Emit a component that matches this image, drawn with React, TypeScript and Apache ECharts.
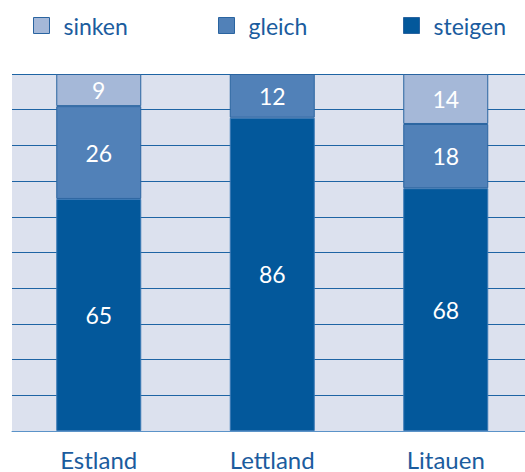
import React, { useEffect, useRef } from "react";
import * as echarts from "echarts";

const categories = ["Estland", "Lettland", "Litauen"];
const steigen = [65, 86, 68];
const gleich = [26, 12, 18];
const sinken: (number | null)[] = [9, null, 14];

const seriesNames = ["sinken", "gleich", "steigen"];
const colors: Record<string, string> = {
  sinken: "#a5b8d8",
  gleich: "#5181b8",
  steigen: "#03589b",
};

const totals = categories.map(
  (_, i) => (steigen[i] || 0) + (gleich[i] || 0) + (sinken[i] || 0)
);

const norm = (arr: (number | null)[]) =>
  arr.map((v, i) => (v == null ? null : { value: (v / totals[i]) * 100, raw: v }));

const textColor = "#1b5c9e";
const font = "Lato, 'Open Sans', sans-serif";

export default function App() {
  const ref = useRef<HTMLDivElement>(null);
  useEffect(() => {
    if (!ref.current) return;
    const chart = echarts.init(ref.current, null, { renderer: "svg" });
    const dataMap: Record<string, (number | null)[]> = { steigen, gleich, sinken };
    const order = ["steigen", "gleich", "sinken"];
    const legendLeft = [33, 218, 403];
    chart.setOption({
      animation: false,
      legend: seriesNames.map((n, i) => ({
        data: [n],
        left: legendLeft[i],
        top: 14,
        padding: 0,
        icon: "rect",
        itemWidth: 16,
        itemHeight: 16,
        itemStyle: { borderColor: "#2a64a0", borderWidth: 1 },
        selectedMode: false,
        textStyle: {
          fontSize: 23,
          color: textColor,
          fontFamily: font,
          padding: [0, 0, 0, 9],
        },
      })),
      grid: {
        left: 12,
        width: 520.5,
        top: 74,
        bottom: 41,
        show: true,
        backgroundColor: "#dce1ee",
        borderWidth: 0,
      },
      xAxis: {
        type: "category",
        data: categories,
        axisLine: { lineStyle: { color: "#5b93c8", width: 1 } },
        axisTick: { length: 7, lineStyle: { color: "#5b93c8" } },
        axisLabel: {
          fontSize: 24,
          color: textColor,
          fontFamily: font,
          margin: 16,
        },
      },
      yAxis: {
        type: "value",
        min: 0,
        max: 100,
        interval: 10,
        axisLabel: { show: false },
        axisLine: { show: false },
        axisTick: { show: false },
        splitLine: { lineStyle: { color: "#1e64a4", width: 1 } },
      },
      series: order.map((n) => ({
        name: n,
        type: "bar",
        stack: "total",
        barWidth: 85,
        data: norm(dataMap[n]),
        itemStyle: {
          color: colors[n],
          borderColor: n === "steigen" ? "#3a78b4" : "#2a64a0",
          borderWidth: 1,
        },
        label: {
          show: true,
          position: "inside",
          color: "#ffffff",
          fontSize: 23,
          fontFamily: font,
          formatter: (p: any) => String(p.data.raw),
        },
      })),
    });
    return () => chart.dispose();
  }, []);
  return (
    <div
      style={{
        position: "absolute",
        left: 0,
        top: 0,
        width: 525,
        height: 472,
        overflow: "hidden",
      }}
    >
      <div ref={ref} style={{ width: 540, height: 472 }} />
    </div>
  );
}
